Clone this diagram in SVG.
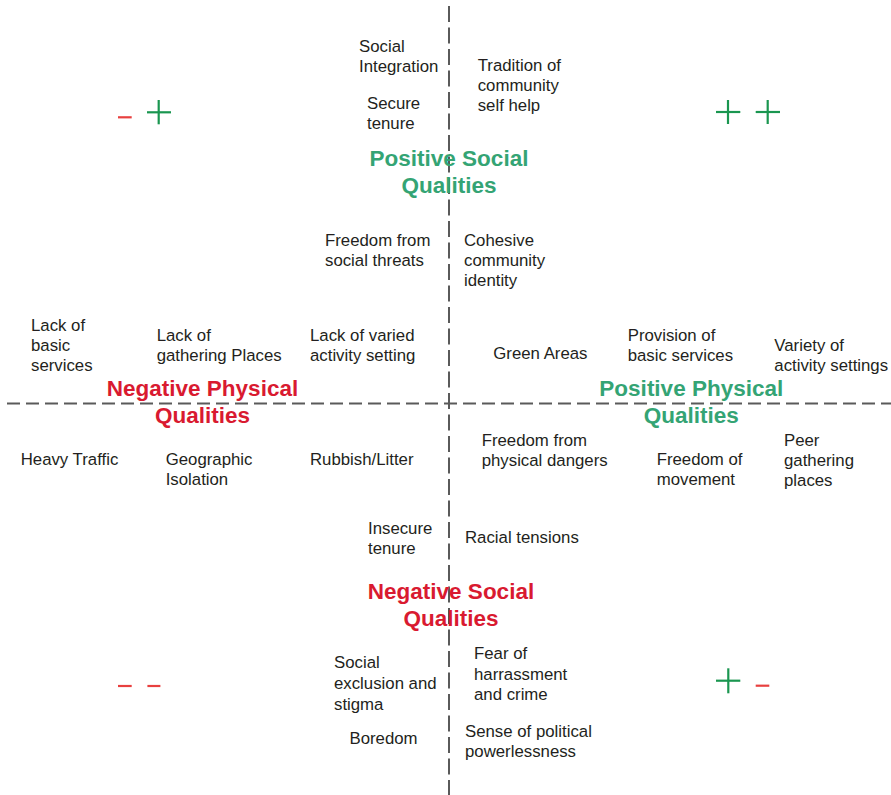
<svg xmlns="http://www.w3.org/2000/svg" width="891" height="795" viewBox="0 0 891 795">
<style>
.t{font-family:"Liberation Sans",Arial,Helvetica,sans-serif;font-size:16.8px;fill:#231f20}
.h{font-family:"Liberation Sans",Arial,Helvetica,sans-serif;font-size:22.5px;font-weight:bold;text-anchor:middle}
.pos{fill:#34a474}
.neg{fill:#d91a30}
.axis{stroke:#5a5a5a;stroke-width:2;fill:none}
.plus{stroke:#1a9650;stroke-width:2.2;fill:none}
.minus{stroke:#e8403f;stroke-width:2.2;fill:none}
</style>
<rect width="891" height="795" fill="#ffffff"/>
<g id="connectors">
<line class="axis" x1="449" y1="6" x2="449" y2="795" stroke-dasharray="16 5.5"/>
<line class="axis" x1="7" y1="403.5" x2="891" y2="403.5" stroke-dasharray="13 6"/>
</g>
<g id="signs">
<line class="minus" x1="118" y1="117.3" x2="131.7" y2="117.3"/>
<line class="plus" x1="147" y1="112.3" x2="171" y2="112.3"/>
<line class="plus" x1="158.7" y1="100" x2="158.7" y2="124.3"/>
<line class="plus" x1="716" y1="112" x2="740.3" y2="112"/>
<line class="plus" x1="728" y1="100" x2="728" y2="124"/>
<line class="plus" x1="755.7" y1="112" x2="780" y2="112"/>
<line class="plus" x1="767.7" y1="100" x2="767.7" y2="124"/>
<line class="minus" x1="118" y1="686" x2="131.7" y2="686"/>
<line class="minus" x1="147.4" y1="686" x2="160.4" y2="686"/>
<line class="plus" x1="716" y1="680.7" x2="740.3" y2="680.7"/>
<line class="plus" x1="728.3" y1="668.3" x2="728.3" y2="693.3"/>
<line class="minus" x1="755.7" y1="685.7" x2="769.3" y2="685.7"/>
</g>
<g id="social-integration"><text class="t" x="359" y="52">Social</text><text class="t" x="359" y="72">Integration</text></g>
<g id="secure-tenure"><text class="t" x="367" y="109.3">Secure</text><text class="t" x="367" y="129.3">tenure</text></g>
<g id="tradition"><text class="t" x="477.7" y="71.3">Tradition of</text><text class="t" x="477.7" y="91.3">community</text><text class="t" x="477.7" y="111.3">self help</text></g>
<g id="positive-social"><text class="h pos" x="449" y="165.7">Positive Social</text><text class="h pos" x="449" y="192.7">Qualities</text></g>
<g id="freedom-social"><text class="t" x="325" y="245.7">Freedom from</text><text class="t" x="325" y="265.5">social threats</text></g>
<g id="cohesive"><text class="t" x="464" y="245.7">Cohesive</text><text class="t" x="464" y="265.7">community</text><text class="t" x="464" y="285.7">identity</text></g>
<g id="lack-basic"><text class="t" x="31" y="330.7">Lack of</text><text class="t" x="31" y="350.5">basic</text><text class="t" x="31" y="370.7">services</text></g>
<g id="lack-gathering"><text class="t" x="156.7" y="341">Lack of</text><text class="t" x="156.7" y="361">gathering Places</text></g>
<g id="lack-varied"><text class="t" x="310" y="341">Lack of varied</text><text class="t" x="310" y="361">activity setting</text></g>
<g id="green-areas"><text class="t" x="493.3" y="358.7">Green Areas</text></g>
<g id="provision"><text class="t" x="627.7" y="340.7">Provision of</text><text class="t" x="627.7" y="360.7">basic services</text></g>
<g id="variety"><text class="t" x="774.3" y="350.7">Variety of</text><text class="t" x="774.3" y="370.7">activity settings</text></g>
<g id="negative-physical"><text class="h neg" x="202.5" y="395.7">Negative Physical</text><text class="h neg" x="202.5" y="422.7">Qualities</text></g>
<g id="positive-physical"><text class="h pos" x="691.3" y="395.7">Positive Physical</text><text class="h pos" x="691.3" y="422.7">Qualities</text></g>
<g id="heavy-traffic"><text class="t" x="20.7" y="465">Heavy Traffic</text></g>
<g id="geographic"><text class="t" x="165.7" y="465">Geographic</text><text class="t" x="165.7" y="484.5">Isolation</text></g>
<g id="rubbish"><text class="t" x="310" y="465">Rubbish/Litter</text></g>
<g id="freedom-physical"><text class="t" x="481.7" y="445.7">Freedom from</text><text class="t" x="481.7" y="466">physical dangers</text></g>
<g id="freedom-movement"><text class="t" x="656.7" y="465">Freedom of</text><text class="t" x="656.7" y="485">movement</text></g>
<g id="peer"><text class="t" x="784" y="445.7">Peer</text><text class="t" x="784" y="466">gathering</text><text class="t" x="784" y="486">places</text></g>
<g id="insecure"><text class="t" x="368" y="534.3">Insecure</text><text class="t" x="368" y="554">tenure</text></g>
<g id="racial"><text class="t" x="465" y="542.7">Racial tensions</text></g>
<g id="negative-social"><text class="h neg" x="451" y="599.3">Negative Social</text><text class="h neg" x="451" y="625.7">Qualities</text></g>
<g id="social-exclusion"><text class="t" x="334" y="668.3">Social</text><text class="t" x="334" y="689">exclusion and</text><text class="t" x="334" y="709.5">stigma</text></g>
<g id="fear"><text class="t" x="474" y="659.3">Fear of</text><text class="t" x="474" y="680">harrassment</text><text class="t" x="474" y="700">and crime</text></g>
<g id="boredom"><text class="t" x="349.5" y="744.3">Boredom</text></g>
<g id="powerlessness"><text class="t" x="465" y="736.7">Sense of political</text><text class="t" x="465" y="757">powerlessness</text></g>
</svg>
